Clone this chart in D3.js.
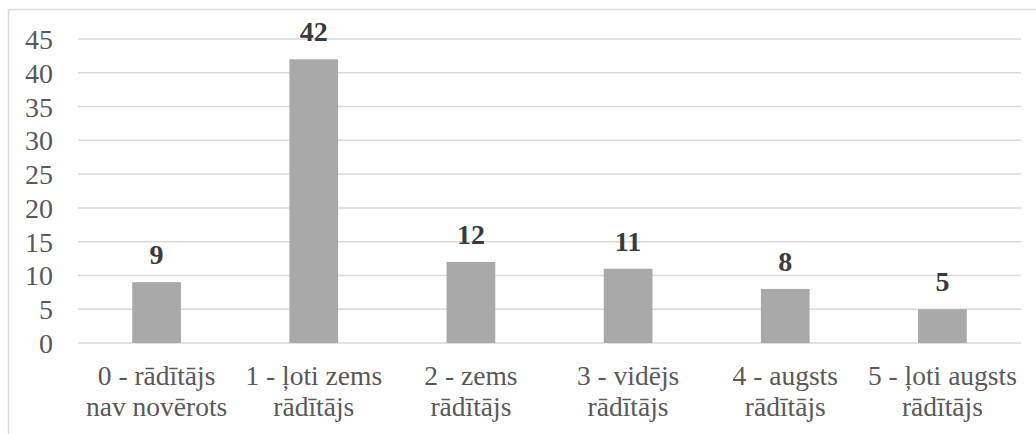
<!DOCTYPE html>
<html>
<head>
<meta charset="utf-8">
<script src="https://cdn.jsdelivr.net/npm/d3@7"></script>
<style>
  html, body { margin: 0; padding: 0; background: #fff; }
  svg { display: block; }
</style>
</head>
<body>
<svg id="chart" width="1036" height="434"></svg>
<script>
// Category labels (two lines each) and counts
const categories = [
  ["0 - rādītājs", "nav novērots"],
  ["1 - ļoti zems", "rādītājs"],
  ["2 - zems", "rādītājs"],
  ["3 - vidējs", "rādītājs"],
  ["4 - augsts", "rādītājs"],
  ["5 - ļoti augsts", "rādītājs"]
];
const values = [9, 42, 12, 11, 8, 5];
const yTicks = [0, 5, 10, 15, 20, 25, 30, 35, 40, 45];

const svg = d3.select("#chart");
const W = 1036, H = 434;
const plot = { left: 78, right: 1021, top: 39, bottom: 343 };
const font = "'Liberation Serif', 'Times New Roman', serif";
const textColor = "#595959";

// Outer frame (top and left edges visible)
svg.append("rect")
  .attr("x", 8.5).attr("y", 9.5)
  .attr("width", W + 10).attr("height", H + 10)
  .attr("fill", "none")
  .attr("stroke", "#d9d9d9")
  .attr("stroke-width", 1.5);

const x = d3.scaleBand()
  .domain(d3.range(categories.length))
  .range([plot.left, plot.right])
  .paddingInner(0.69)
  .paddingOuter(0.345);

const y = d3.scaleLinear()
  .domain([0, 45])
  .range([plot.bottom, plot.top]);

// Horizontal gridlines
svg.append("g")
  .selectAll("line")
  .data(yTicks)
  .join("line")
  .attr("x1", plot.left).attr("x2", plot.right)
  .attr("y1", d => y(d)).attr("y2", d => y(d))
  .attr("stroke", "#d9d9d9")
  .attr("stroke-width", 1.5);

// Y axis labels
const yAxis = d3.axisLeft(y).tickValues(yTicks).tickSize(0).tickPadding(0);
const yg = svg.append("g")
  .attr("transform", `translate(${plot.left - 25},0)`)
  .call(yAxis);
yg.select(".domain").remove();
yg.selectAll("text")
  .attr("font-family", font)
  .attr("font-size", 28)
  .attr("fill", textColor)
  .attr("dy", "0.34em");

// Bars
svg.append("g")
  .selectAll("rect")
  .data(values)
  .join("rect")
  .attr("x", (d, i) => x(i))
  .attr("width", x.bandwidth())
  .attr("y", d => y(d))
  .attr("height", d => y(0) - y(d))
  .attr("fill", "#a9a9a9");

// Value labels
svg.append("g")
  .selectAll("text")
  .data(values)
  .join("text")
  .attr("x", (d, i) => x(i) + x.bandwidth() / 2)
  .attr("y", d => y(d) - 18)
  .attr("text-anchor", "middle")
  .attr("font-family", font)
  .attr("font-size", 28)
  .attr("font-weight", "bold")
  .attr("fill", "#3a3a3a")
  .text(d => d);

// Category labels
const xAxis = d3.axisBottom(x).tickSize(0).tickFormat("");
const xg = svg.append("g")
  .attr("transform", `translate(0,${plot.bottom})`)
  .call(xAxis);
xg.select(".domain").remove();
xg.selectAll(".tick text").remove();
xg.selectAll(".tick").each(function(i) {
  const t = d3.select(this).append("text")
    .attr("text-anchor", "middle")
    .attr("font-family", font)
    .attr("font-size", 27.5)
    .attr("fill", textColor);
  categories[i].forEach((line, k) => {
    t.append("tspan")
      .attr("x", 0)
      .attr("y", 42 + k * 31)
      .text(line);
  });
});
</script>
</body>
</html>
